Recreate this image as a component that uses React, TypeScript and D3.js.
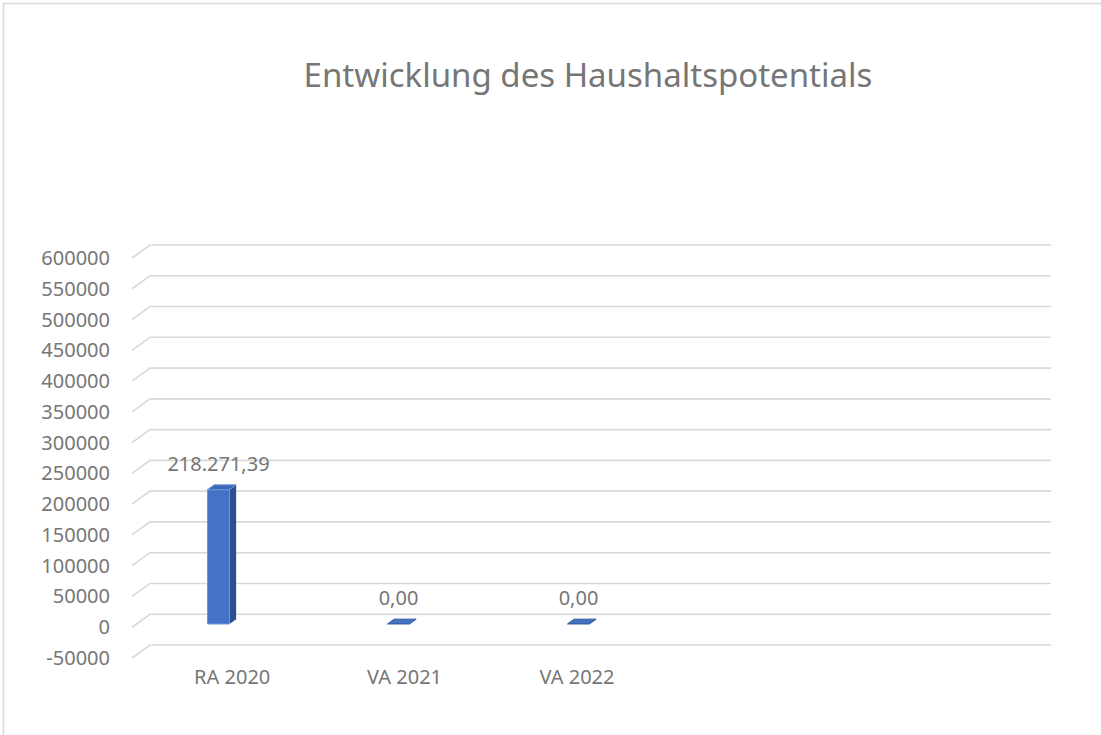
import * as d3 from "d3";

const W = 1101;
const H = 735;

// data
const categories = ["RA 2020", "VA 2021", "VA 2022"];
const values = [218271.39, 0, 0];
const slotCount = 5; // chart keeps room for two more (empty) categories
const yTicks = [
  -50000, 0, 50000, 100000, 150000, 200000, 250000, 300000, 350000, 400000,
  450000, 500000, 550000, 600000,
];
const title = "Entwicklung des Haushaltspotentials";

const COLORS = {
  grid: "#d9d9d9",
  text: "#767676",
  front: "#4472c4",
  frontEdge: "#6b95dc",
  side: "#2c4f8e",
  top: "#3b68b8",
  border: "#d9d9d9",
};

const FONT = "'Noto Sans', sans-serif";

// 3D floor: depth vector from back wall to front edge
const DEPTH = { dx: -18, dy: 13 };
const BAR_BACK = 0.38; // depth fraction of bar back face
const BAR_FRONT = 0.75; // depth fraction of bar front face

const deLocale = d3.formatLocale({
  decimal: ",",
  thousands: ".",
  grouping: [3],
  currency: ["", " €"],
});
const fmt = deLocale.format(",.2f");

export default function App() {
  const yScale = d3
    .scaleLinear()
    .domain([yTicks[0], yTicks[yTicks.length - 1]])
    .range([645, 245]);

  const wallX: [number, number] = [150, 1051];

  const xBars = d3
    .scaleBand<number>()
    .domain(d3.range(slotCount))
    .range([142, 1042])
    .paddingInner(0)
    .paddingOuter(0);

  const xLabels = d3
    .scaleBand<number>()
    .domain(d3.range(slotCount))
    .range([146, 1008]);

  const barW = 22;
  const fdx = DEPTH.dx * BAR_FRONT;
  const fdy = DEPTH.dy * BAR_FRONT;
  const bdx = DEPTH.dx * BAR_BACK;
  const bdy = DEPTH.dy * BAR_BACK;

  return (
    <svg
      width={W}
      height={H}
      style={{ position: "absolute", left: 0, top: 0, background: "#fff" }}
      fontFamily={FONT}
    >
      <rect
        x={3.5}
        y={3.5}
        width={W}
        height={H}
        fill="#fff"
        stroke={COLORS.border}
        strokeWidth={1.5}
      />
      <text
        x={588}
        y={87}
        textAnchor="middle"
        fontSize={33}
        fill={COLORS.text}
      >
        {title}
      </text>

      {/* gridlines: back wall line plus slanted floor edge */}
      {yTicks.map((t) => {
        const y = yScale(t);
        return (
          <g key={t}>
            <path
              d={`M${wallX[0] + DEPTH.dx},${y + DEPTH.dy}L${wallX[0]},${y}H${wallX[1]}`}
              fill="none"
              stroke={COLORS.grid}
              strokeWidth={1.6}
            />
            <text
              x={110}
              y={y + DEPTH.dy}
              dy="0.35em"
              textAnchor="end"
              fontSize={20}
              fill={COLORS.text}
            >
              {t}
            </text>
          </g>
        );
      })}

      {/* bars */}
      {values.map((v, i) => {
        const cx = (xBars(i) as number) + xBars.bandwidth() / 2;
        const x0 = cx - barW / 2;
        const x1 = cx + barW / 2;
        const y0 = yScale(0);
        const yv = yScale(v);
        const front = `M${x0 + fdx},${yv + fdy}H${x1 + fdx}V${y0 + fdy}H${x0 + fdx}Z`;
        const side = `M${x1 + fdx},${yv + fdy}L${x1 + bdx},${yv + bdy}V${y0 + bdy}L${x1 + fdx},${y0 + fdy}Z`;
        const top = `M${x0 + fdx},${yv + fdy}L${x0 + bdx},${yv + bdy}H${x1 + bdx}L${x1 + fdx},${yv + fdy}Z`;
        return (
          <g key={i}>
            {v !== 0 && (
              <>
                <path d={side} fill={COLORS.side} />
                <path
                  d={front}
                  fill={COLORS.front}
                  stroke={COLORS.frontEdge}
                  strokeWidth={1}
                />
              </>
            )}
            <path
              d={top}
              fill={v !== 0 ? COLORS.top : COLORS.front}
              stroke={v !== 0 ? COLORS.frontEdge : "#2f5597"}
              strokeWidth={1}
            />
            <text
              x={cx + fdx}
              y={yv + fdy - 19}
              textAnchor="middle"
              fontSize={20}
              fill={COLORS.text}
            >
              {fmt(v)}
            </text>
          </g>
        );
      })}

      {/* category labels */}
      {categories.map((c, i) => (
        <text
          key={c}
          x={(xLabels(i) as number) + xLabels.bandwidth() / 2}
          y={684}
          textAnchor="middle"
          fontSize={20}
          fill={COLORS.text}
        >
          {c}
        </text>
      ))}
    </svg>
  );
}
